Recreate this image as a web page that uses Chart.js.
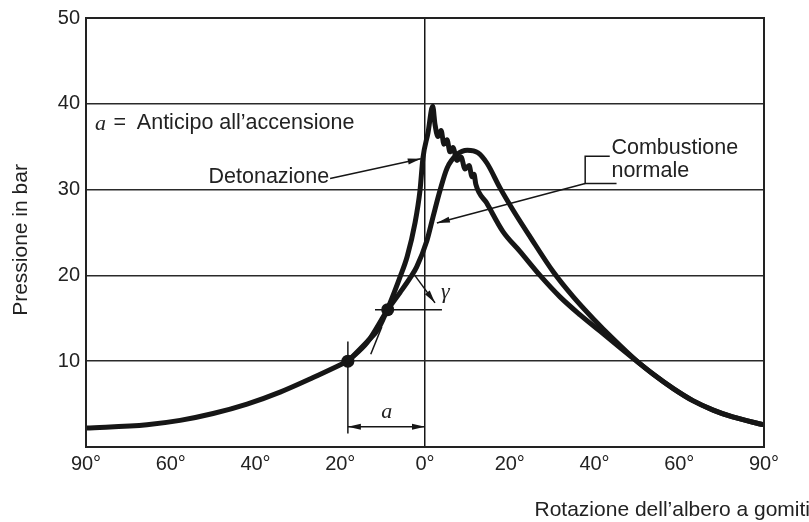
<!DOCTYPE html>
<html>
<head>
<meta charset="utf-8">
<script src="https://cdn.jsdelivr.net/npm/chart.js@4.4.1/dist/chart.umd.min.js"></script>
<style>
  html, body { margin:0; padding:0; background:#fff; }
  #wrap { width:809px; height:522px; }
</style>
</head>
<body>
<div id="wrap"><canvas id="chart" width="809" height="522"></canvas></div>
<script>
// x positions are in "tick steps": each printed tick (90°,60°,40°,20°,0°,...) is one unit
const xTickLabels = ['90°','60°','40°','20°','0°','20°','40°','60°','90°'];
const yTicks      = [10, 20, 30, 40, 50];

const compressionX = [-4.01, -3.28, -2.89, -2.50, -2.10, -1.71, -1.32, -0.91];
const compressionY = [2.2, 2.6, 3.1, 3.9, 5.0, 6.4, 8.1, 10.0];

const detonationX = [-0.91, -0.68, -0.555, -0.437, -0.295, -0.21, -0.118, -0.059, -0.024, 0.035, 0.091,
                     0.118, 0.153, 0.189, 0.224, 0.26, 0.295, 0.33, 0.378, 0.425, 0.472, 0.52, 0.555, 0.578, 0.60,
                     0.73, 0.92, 1.12, 1.357, 1.593, 1.83, 2.065, 2.30, 2.50];
const detonationY = [10.0, 12.3, 13.7, 16.2, 19.8, 22.2, 26.1, 29.9, 33.7, 36.6, 39.7,
                     37.6, 36.2, 36.9, 35.3, 35.8, 34.4, 34.9, 33.4, 33.8, 32.4, 32.8, 31.5, 31.8, 30.6,
                     28.4, 25.1, 22.8, 20.0, 17.5, 15.4, 13.5, 11.6, 10.0];

const normalX = [-0.91, -0.68, -0.44, -0.295, -0.17, -0.098, 0.024, 0.094, 0.177, 0.26, 0.378, 0.5,
                 0.625, 0.73, 0.885, 1.04, 1.24, 1.515, 1.75, 1.99, 2.22, 2.50];
const normalY = [10.0, 12.2, 16.0, 18.0, 19.8, 21.0, 24.1, 26.8, 29.9, 32.5, 34.1, 34.6,
                 34.3, 33.1, 30.2, 27.6, 24.5, 20.4, 17.5, 14.9, 12.6, 10.0];

// expansion after both curves merge
const tailX = [2.50, 2.69, 2.93, 3.16, 3.40, 3.63, 3.99];
const tailY = [10.0, 8.5, 6.8, 5.4, 4.3, 3.5, 2.6];

// construction marks
const dotsX = [-0.91, -0.44];
const dotsY = [10.0, 16.0];
const ignitionLineX = [-0.91, -0.91], ignitionLineY = [1.56, 12.3];
const advanceLineX  = [-0.91, 0.0],   advanceLineY  = [2.37, 2.37];
const refLineX      = [-0.59, 0.20],  refLineY      = [16.0, 16.0];
const gammaLineX    = [-0.142, 0.118], gammaLineY   = [20.3, 16.8];
const tickMarkX     = [-0.64, -0.51], tickMarkY     = [10.8, 14.0];
const detArrowX     = [-1.12, -0.05], detArrowY     = [31.3, 33.6];
const normArrowX    = [1.89, 0.14],   normArrowY    = [30.7, 26.1];
const bracketX      = [2.18, 1.89, 1.89, 2.26], bracketY = [33.9, 33.9, 30.7, 30.7];

const pts = (xs, ys) => xs.map((x, i) => ({ x, y: ys[i] }));
const INK = '#161616';

const curve = (data, w) => ({
  data, borderColor: INK, borderWidth: w, pointRadius: 0, fill: false,
  cubicInterpolationMode: 'monotone', borderJoinStyle: 'round', borderCapStyle: 'round'
});
const thin = (data) => ({
  data, borderColor: INK, borderWidth: 1.5, pointRadius: 0, fill: false, tension: 0
});

const annotate = {
  id: 'annotate',
  afterDraw(chart) {
    const { ctx, chartArea: a, scales: { x, y } } = chart;
    const px = v => x.getPixelForValue(v), py = v => y.getPixelForValue(v);
    ctx.save();
    ctx.strokeStyle = '#222';
    ctx.lineWidth = 2;
    ctx.strokeRect(a.left, a.top, a.right - a.left, a.bottom - a.top);

    const head = (x1, y1, x2, y2) => {
      const ang = Math.atan2(py(y2) - py(y1), px(x2) - px(x1));
      const L = 13, H = 3;
      ctx.save();
      ctx.translate(px(x2), py(y2));
      ctx.rotate(ang);
      ctx.fillStyle = INK;
      ctx.beginPath();
      ctx.moveTo(0, 0); ctx.lineTo(-L, -H); ctx.lineTo(-L, H); ctx.closePath();
      ctx.fill();
      ctx.restore();
    };
    head(detArrowX[0], detArrowY[0], detArrowX[1], detArrowY[1]);
    head(normArrowX[0], normArrowY[0], normArrowX[1], normArrowY[1]);
    head(advanceLineX[1], advanceLineY[1], advanceLineX[0], advanceLineY[0]);
    head(advanceLineX[0], advanceLineY[0], advanceLineX[1], advanceLineY[1]);
    head(gammaLineX[0], gammaLineY[0], gammaLineX[1], gammaLineY[1]);

    ctx.fillStyle = '#222';
    ctx.textBaseline = 'middle';
    ctx.font = '21.5px "Liberation Sans", Arial, sans-serif';
    ctx.textAlign = 'right';
    ctx.fillText('Detonazione', px(-1.13), py(31.5));
    ctx.textAlign = 'left';
    ctx.fillText('Combustione', px(2.2), py(34.85));
    ctx.fillText('normale', px(2.2), py(32.2));
    ctx.fillText('Anticipo all\u2019accensione', px(-3.4), py(37.7));
    ctx.textAlign = 'center';
    ctx.fillText('=', px(-3.6), py(37.7));
    ctx.font = 'italic 22px "Liberation Serif", "Times New Roman", serif';
    ctx.fillText('a', px(-3.83), py(37.6));
    ctx.fillText('a', px(-0.45), py(4.1));
    ctx.fillText('\u03b3', px(0.24), py(18.0));

    ctx.font = '21px "Liberation Sans", Arial, sans-serif';
    ctx.textAlign = 'right';
    ctx.fillText('Rotazione dell\u2019albero a gomiti', 810, 510);
    ctx.translate(21, 240);
    ctx.rotate(-Math.PI / 2);
    ctx.textAlign = 'center';
    ctx.fillText('Pressione in bar', 0, 0);
    ctx.restore();
  }
};

new Chart(document.getElementById('chart'), {
  type: 'line',
  data: {
    datasets: [
      curve(pts(detonationX.concat(tailX.slice(1)), detonationY.concat(tailY.slice(1))), 5),
      curve(pts(normalX.concat(tailX.slice(1)), normalY.concat(tailY.slice(1))), 5),
      curve(pts(compressionX, compressionY), 5),
      { type: 'scatter', data: pts(dotsX, dotsY), pointRadius: 6.5, pointBackgroundColor: INK, pointBorderWidth: 0 },
      thin(pts(ignitionLineX, ignitionLineY)),
      thin(pts(advanceLineX, advanceLineY)),
      thin(pts(refLineX, refLineY)),
      thin(pts(gammaLineX, gammaLineY)),
      thin(pts(tickMarkX, tickMarkY)),
      thin(pts(detArrowX, detArrowY)),
      thin(pts(normArrowX, normArrowY)),
      thin(pts(bracketX, bracketY))
    ]
  },
  options: {
    responsive: false,
    animation: false,
    layout: { padding: { top: 16, right: 45, left: 0, bottom: 0 } },
    plugins: { legend: { display: false }, tooltip: { enabled: false } },
    scales: {
      x: {
        type: 'linear', min: -4, max: 4,
        afterFit: s => { s.height = 75; },
        border: { display: false },
        grid: { drawTicks: false, lineWidth: 1.5, color: c => c.tick && c.tick.value === 0 ? INK : 'rgba(0,0,0,0)' },
        ticks: {
          stepSize: 1, padding: 5, color: '#222',
          font: { family: '"Liberation Sans", Arial, sans-serif', size: 20 },
          callback: v => xTickLabels[Math.round(v) + 4]
        }
      },
      y: {
        min: 0, max: 50,
        afterFit: s => { s.width = 86; },
        afterBuildTicks: s => { s.ticks = yTicks.map(v => ({ value: v })); },
        border: { display: false },
        grid: { drawTicks: false, lineWidth: 1.5, color: '#2a2a2a' },
        ticks: {
          padding: 6, color: '#222',
          font: { family: '"Liberation Sans", Arial, sans-serif', size: 20 }
        }
      }
    }
  },
  plugins: [annotate]
});
</script>
</body>
</html>
